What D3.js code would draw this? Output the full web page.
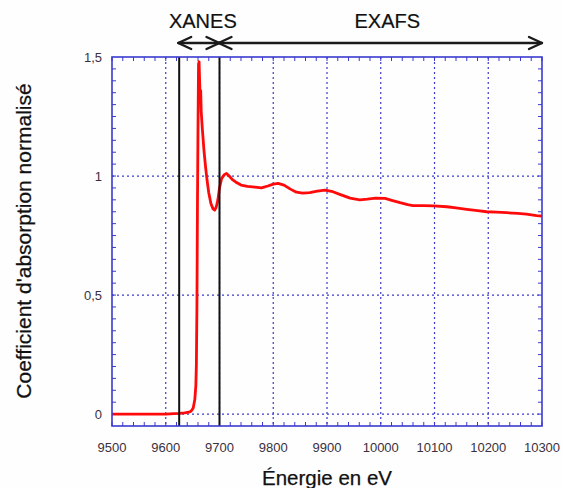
<!DOCTYPE html>
<html>
<head>
<meta charset="utf-8">
<script src="https://cdn.jsdelivr.net/npm/d3@7"></script>
<style>
  html, body { margin: 0; padding: 0; background: #fefefe; }
  svg { display: block; font-family: "Liberation Sans", Arial, sans-serif; }
</style>
</head>
<body>
<svg id="chart" width="562" height="488"></svg>
<script>
// Normalised absorption spectrum (energy in eV, normalised mu)
const energy = [
  9500, 9560, 9600, 9615, 9625, 9635, 9643, 9647, 9651, 9654, 9656, 9657, 9658, 9659,
  9660, 9661, 9662, 9663, 9664, 9665, 9666, 9668, 9671, 9674, 9677, 9680, 9684, 9688,
  9691, 9694, 9697, 9700, 9704, 9709, 9713, 9718, 9724, 9730, 9740, 9752, 9766, 9778,
  9790, 9800, 9809, 9820, 9832, 9843, 9855, 9868, 9882, 9896, 9911, 9925, 9943, 9961,
  9975, 9990, 10008, 10022, 10036, 10050, 10060, 10080, 10098, 10123, 10140, 10160,
  10180, 10197, 10215, 10234, 10255, 10271, 10290, 10300
];
const absorption = [
  0, 0, 0, 0.002, 0.003, 0.005, 0.008, 0.012, 0.025, 0.06, 0.12, 0.21, 0.45, 0.88,
  1.2, 1.47, 1.48, 1.4, 1.33, 1.36, 1.27, 1.2, 1.11, 1.04, 0.98, 0.93, 0.885, 0.862,
  0.857, 0.87, 0.9, 0.95, 0.99, 1.006, 1.011, 1.0, 0.985, 0.975, 0.962, 0.957, 0.953, 0.95,
  0.958, 0.966, 0.969, 0.962, 0.945, 0.932, 0.928, 0.93, 0.937, 0.941, 0.934, 0.922, 0.907, 0.9,
  0.903, 0.907, 0.906, 0.897, 0.888, 0.88, 0.876, 0.876, 0.875, 0.871, 0.866, 0.86,
  0.855, 0.85, 0.848, 0.846, 0.843, 0.84, 0.834, 0.832
];

// Axis ticks and labels
const xTicks = [9500, 9600, 9700, 9800, 9900, 10000, 10100, 10200, 10300];
const yTicks = [0, 0.5, 1, 1.5];
const yTickLabels = ["0", "0,5", "1", "1,5"];

// Region boundaries (eV) and their labels
const edgeLines = [9625, 9700];
const regionNames = ["XANES", "EXAFS"];
const regionFrom = [9625, 9700];
const regionTo = [9700, 10300];

const xTitle = "Énergie en eV";
const yTitle = "Coefficient d'absorption normalisé";

const svg = d3.select("#chart");
const pLeft = 112, pRight = 542, pTop = 57, pBottom = 426;

const x = d3.scaleLinear().domain([9500, 10300]).range([pLeft, pRight]);
const y = d3.scaleLinear().domain([-0.05, 1.5]).range([pBottom, pTop]);

const blue = "#3a3ad0";
const textCol = "#3a3040";

// Dotted grid
const grid = svg.append("g");
grid.selectAll("line.gx").data(xTicks.slice(1, -1)).join("line")
  .attr("x1", d => x(d)).attr("x2", d => x(d))
  .attr("y1", pTop).attr("y2", pBottom)
  .attr("stroke", blue).attr("stroke-width", 1.2).attr("stroke-dasharray", "2,3");
grid.selectAll("line.gy").data(yTicks.filter(d => d < 1.5)).join("line")
  .attr("x1", pLeft).attr("x2", pRight)
  .attr("y1", d => y(d)).attr("y2", d => y(d))
  .attr("stroke", blue).attr("stroke-width", 1.2).attr("stroke-dasharray", "2,3");

// Minor ticks, inward on all four sides
const xMinor = d3.range(9500, 10301, 20);
const yMinor = d3.range(0, 31).map(i => i * 0.05).filter(v => v < 1.5 - 1e-9);
const tk = svg.append("g").attr("stroke", blue).attr("stroke-width", 1);
xMinor.forEach(v => {
  tk.append("line").attr("x1", x(v)).attr("x2", x(v)).attr("y1", pBottom).attr("y2", pBottom - 4);
  tk.append("line").attr("x1", x(v)).attr("x2", x(v)).attr("y1", pTop).attr("y2", pTop + 4);
});
yMinor.forEach(v => {
  tk.append("line").attr("x1", pLeft).attr("x2", pLeft + 4).attr("y1", y(v)).attr("y2", y(v));
  tk.append("line").attr("x1", pRight).attr("x2", pRight - 4).attr("y1", y(v)).attr("y2", y(v));
});

// Spectrum
const line = d3.line().x((d, i) => x(energy[i])).y(d => y(d));
svg.append("path").datum(absorption)
  .attr("d", line)
  .attr("fill", "none").attr("stroke", "#ff0a0a").attr("stroke-width", 2.8)
  .attr("stroke-linejoin", "round");

// Region boundaries
svg.selectAll("line.edge").data(edgeLines).join("line")
  .attr("x1", d => x(d)).attr("x2", d => x(d))
  .attr("y1", pTop).attr("y2", pBottom)
  .attr("stroke", "#111").attr("stroke-width", 2);

// Frame
svg.append("rect").attr("x", pLeft).attr("y", pTop)
  .attr("width", pRight - pLeft).attr("height", pBottom - pTop)
  .attr("fill", "none").attr("stroke", blue).attr("stroke-width", 1.6);

// Tick labels
svg.append("g").selectAll("text").data(xTicks).join("text")
  .attr("x", d => x(d)).attr("y", 452)
  .attr("text-anchor", "middle").attr("font-size", 13).attr("fill", textCol)
  .text(d => d);
svg.append("g").selectAll("text").data(yTicks).join("text")
  .attr("x", 102).attr("y", d => y(d) + 4.5)
  .attr("text-anchor", "end").attr("font-size", 13).attr("fill", textCol)
  .text((d, i) => yTickLabels[i]);

// Axis titles
svg.append("text").attr("x", 327).attr("y", 484.5)
  .attr("text-anchor", "middle").attr("font-size", 20.5).attr("fill", "#111")
  .attr("stroke", "#111").attr("stroke-width", 0.25)
  .text(xTitle);
svg.append("text")
  .attr("transform", "translate(31,241) rotate(-90)")
  .attr("text-anchor", "middle").attr("font-size", 21).attr("fill", "#111")
  .attr("stroke", "#111").attr("stroke-width", 0.25)
  .text(yTitle);

// Double-headed arrows with region names
const arrowY = 43;
const labelShift = [4, 7];
const ag = svg.append("g").attr("stroke", "#1a1a1a").attr("stroke-width", 2.3)
  .attr("fill", "none").attr("stroke-linecap", "round").attr("stroke-linejoin", "round");
regionNames.forEach((name, i) => {
  const a = x(regionFrom[i]) - 1, b = x(regionTo[i]);
  ag.append("line").attr("x1", a).attr("x2", b).attr("y1", arrowY).attr("y2", arrowY);
  ag.append("path").attr("d", `M${a + 13},${arrowY - 6}L${a},${arrowY}L${a + 13},${arrowY + 6}`);
  ag.append("path").attr("d", `M${b - 13},${arrowY - 6}L${b},${arrowY}L${b - 13},${arrowY + 6}`);
  svg.append("text").attr("x", (a + b) / 2 + labelShift[i]).attr("y", 27.5)
    .attr("text-anchor", "middle").attr("font-size", 20).attr("fill", "#111")
    .attr("stroke", "#111").attr("stroke-width", 0.2)
    .text(name);
});
</script>
</body>
</html>
